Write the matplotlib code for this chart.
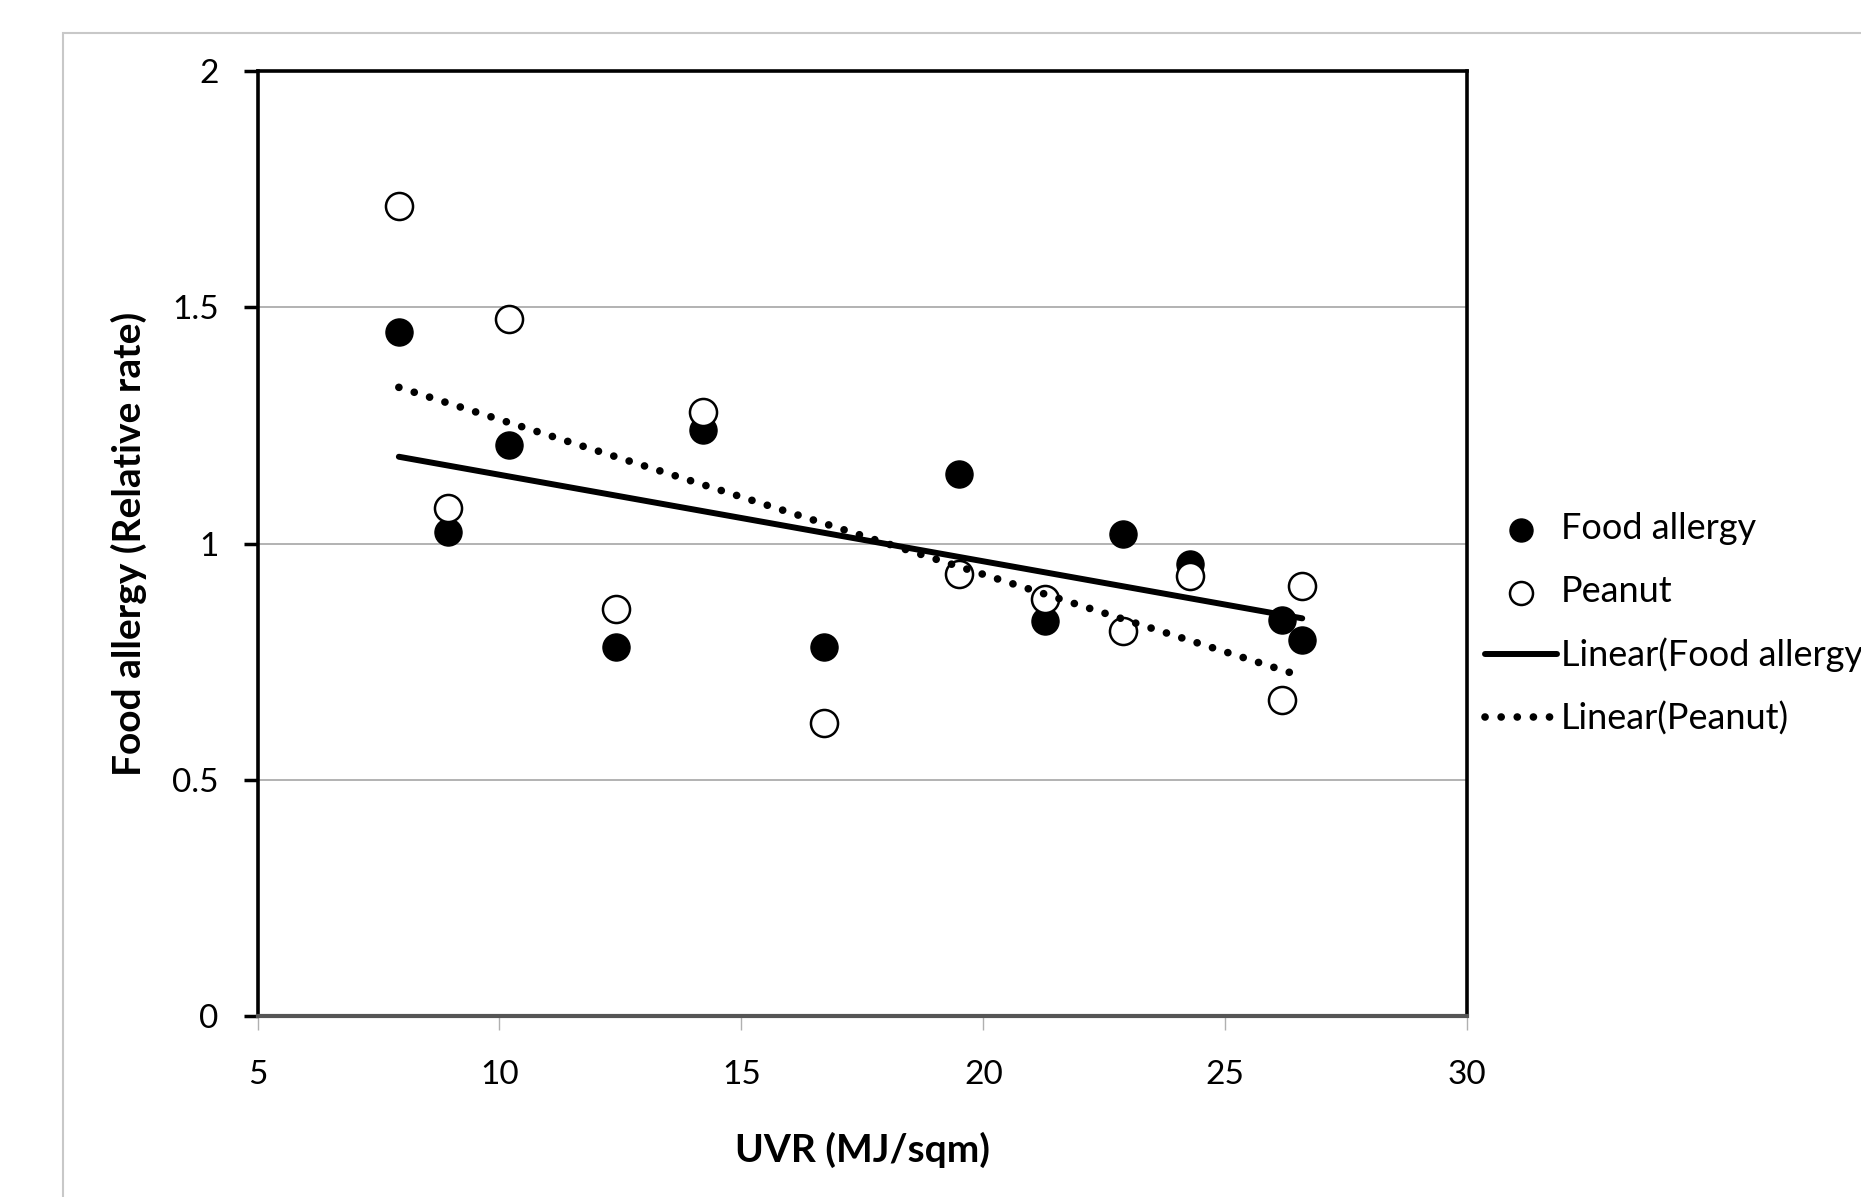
import numpy as np
import matplotlib.pyplot as plt
from matplotlib.patches import Rectangle

plt.rcParams['font.family'] = ['Lato', 'DejaVu Sans']

# UVR values (MJ/sqm) for each region
uvr = [7.92, 8.93, 10.2, 12.41, 14.2, 16.7, 19.5, 21.27, 22.89, 24.28, 26.17, 26.59]
# relative rates
food_allergy = [1.447, 1.025, 1.209, 0.781, 1.241, 0.781, 1.148, 0.837, 1.020, 0.957, 0.839, 0.796]
peanut = [1.714, 1.075, 1.475, 0.862, 1.279, 0.621, 0.935, 0.882, 0.814, 0.932, 0.668, 0.910]

x_ticks = [5, 10, 15, 20, 25, 30]
y_ticks = [0, 0.5, 1, 1.5, 2]

fig = plt.figure(figsize=(18.61, 11.97), dpi=100)

# chart area border (extends past the right/bottom edge)
fig.patches.append(Rectangle((0.0339, -0.2), 2, 0.9724 + 0.2, transform=fig.transFigure,
                             fill=False, edgecolor='#c8c8c8', linewidth=1.5))

ax = fig.add_axes([0.1384, 0.1512, 0.650, 0.7893])

ax.scatter(uvr, food_allergy, s=380, color='black', zorder=4, label='Food allergy')
ax.scatter(uvr, peanut, s=380, facecolor='white', edgecolor='black', linewidth=1.8,
           zorder=4, label='Peanut')

# linear trendlines over the data range
xs = np.array([min(uvr), max(uvr)])
p1 = np.polyfit(uvr, food_allergy, 1)
p2 = np.polyfit(uvr, peanut, 1)
ax.plot(xs, np.polyval(p1, xs), color='black', linewidth=4.3, solid_capstyle='round',
        zorder=5, label='Linear(Food allergy)')
ax.plot(xs, np.polyval(p2, xs), color='black', linewidth=5.5, linestyle=(0, (0.01, 2.1)),
        dash_capstyle='round', zorder=5, label='Linear(Peanut)')

ax.set_xlim(5, 30)
ax.set_ylim(0, 2)
ax.set_xticks(x_ticks)
ax.set_yticks(y_ticks)
ax.set_xticklabels([str(v) for v in x_ticks])
ax.set_yticklabels(['0', '0.5', '1', '1.5', '2'])
ax.grid(axis='y', color='#a6a6a6', linewidth=1.2)
ax.set_axisbelow(True)

for side in ['left', 'top', 'right']:
    ax.spines[side].set_linewidth(2.6)
    ax.spines[side].set_color('black')
ax.spines['bottom'].set_linewidth(3)
ax.spines['bottom'].set_color('#555555')

ax.tick_params(axis='y', direction='out', length=10, width=2.5, color='black',
               labelsize=24, pad=18)
ax.tick_params(axis='x', direction='out', length=10, width=1, color='#b0b0b0',
               labelsize=24, pad=22)

ax.set_xlabel('UVR (MJ/sqm)', fontsize=28, fontweight='bold', labelpad=30)
ax.set_ylabel('Food allergy (Relative rate)', fontsize=28, fontweight='bold', labelpad=18)

ax.legend(loc='upper left', bbox_to_anchor=(0.997, 0.556), frameon=False, fontsize=26,
          handlelength=2.0, handletextpad=0.1, labelspacing=0.82, borderpad=0.3,
          borderaxespad=0.3, markerscale=0.85, scatterpoints=1)

fig.savefig('out.png', dpi=100)
